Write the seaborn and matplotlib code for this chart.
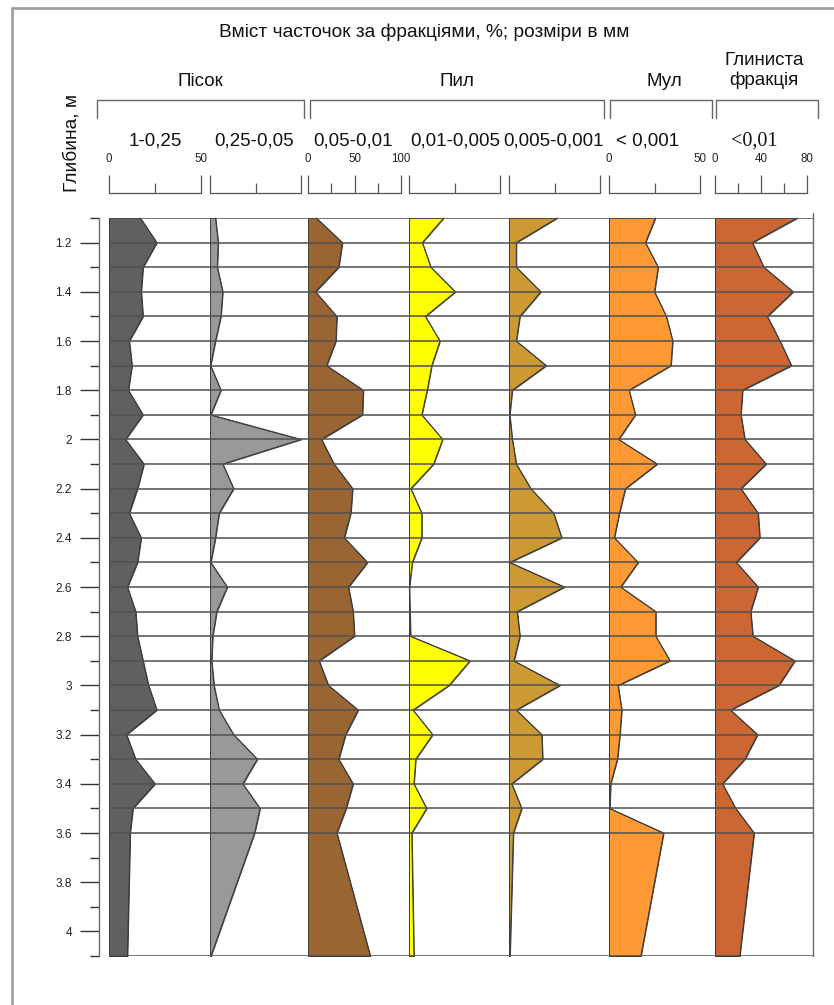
import matplotlib
matplotlib.use('Agg')
import matplotlib.pyplot as plt
import seaborn as sns
from matplotlib.lines import Line2D
from matplotlib.ticker import FixedLocator, FuncFormatter, NullFormatter

sns.set_theme(style='white')
plt.rcParams['font.family'] = ['Liberation Sans', 'DejaVu Sans']

# ---------------- data ----------------
depth = [1.1, 1.2, 1.3, 1.4, 1.5, 1.6, 1.7, 1.8, 1.9, 2.0, 2.1, 2.2, 2.3, 2.4,
         2.5, 2.6, 2.7, 2.8, 2.9, 3.0, 3.1, 3.2, 3.3, 3.4, 3.5, 3.6, 4.1]
layer_bounds = [1.1, 1.2, 1.3, 1.4, 1.5, 1.6, 1.7, 1.8, 1.9, 2.0, 2.1, 2.2, 2.3,
                2.4, 2.5, 2.6, 2.7, 2.8, 2.9, 3.0, 3.1, 3.2, 3.3, 3.4, 3.5, 3.6, 4.1]

sand_coarse = [17, 26, 18.5, 17.5, 18.5, 11, 12.5, 10.5, 18.5, 9, 19, 15.5, 11, 17.5,
               15.5, 10, 14.5, 15.5, 18.5, 21.5, 26, 9.5, 14.5, 25, 13, 11.5, 10]
sand_fine = [3, 4.5, 4, 7, 6, 3, 0.3, 6, 0.4, 50, 7, 13, 5, 3,
             0.4, 9.5, 3.7, 1.5, 0.9, 2.2, 5, 13, 26, 18, 27.5, 24.5, 0.5]
silt_coarse = [9, 37, 33, 8, 31, 30, 20, 59.5, 58.5, 14.5, 28, 48, 46, 39,
               64, 43.5, 48.5, 50, 12, 22, 54, 40.5, 33, 48.5, 41, 31, 67]
silt_medium = [19, 7.3, 12, 25.5, 9, 17, 12.5, 10, 7, 18.5, 13.5, 1, 7, 7,
               1.8, 0.2, 0.5, 0.9, 33.5, 22, 2.2, 13, 3.7, 2.7, 9.7, 1.5, 2.7]
silt_fine = [26.5, 4, 4, 17.5, 6, 4, 20.5, 1.8, 0.4, 1.8, 4, 12, 24.5, 29,
             0.4, 30.5, 4.5, 6, 2.7, 28, 4, 18, 18.5, 1.5, 7, 2.4, 0.5]
clay_lt001 = [25.5, 20, 27, 25, 31.5, 35, 34, 11, 14.5, 5.3, 26.5, 9, 5.7, 2.9,
              16, 6.4, 25.7, 25.7, 33.5, 5, 7, 6, 4.6, 0.9, 0.4, 30, 17.5]
clay_lt01 = [71.5, 32.5, 42.5, 68, 45.5, 56.5, 66.5, 24, 22.5, 26, 44.5, 22.5, 37.5, 39,
             18.5, 37.5, 31, 33, 69.5, 55.5, 13.5, 37, 26, 6.5, 18, 34, 21.5]

fraction_labels = ['1-0,25', '0,25-0,05', '0,05-0,01', '0,01-0,005', '0,005-0,001',
                   '< 0,001', '<0,01']
group_labels = ['Пісок', 'Пил', 'Мул', 'Глиниста\nфракція']
title = 'Вміст часточок за фракціями, %; розміри в мм'
ylabel = 'Глибина, м'

# ---------------- layout ----------------
W, H = 834, 1005
fig = plt.figure(figsize=(W / 100, H / 100), dpi=100)
fig.patch.set_facecolor('white')

FS = 13.5


def axes_px(x0, y0, x1, y1):
    return fig.add_axes([x0 / W, 1 - y1 / H, (x1 - x0) / W, (y1 - y0) / H])


def fline(xs, ys, **kw):
    fig.add_artist(Line2D([x / W for x in xs], [1 - y / H for y in ys],
                          transform=fig.transFigure, **kw))


TOP, BOT = 218, 956
panels = [
    # values, color, x0, x1, xmax, major, labeled, minor, label x, serif
    (sand_coarse, '#606060', 109, 201, 50, [0, 50], True, [25], 155, False),
    (sand_fine, '#999999', 210, 301, 50, [0, 50], False, [25], 254, False),
    (silt_coarse, '#996633', 308, 401, 100, [0, 50, 100], True, [25, 75], 353, False),
    (silt_medium, '#FFFF00', 409, 500, 50, [0, 50], False, [25], 455, False),
    (silt_fine, '#CC9933', 509, 600, 50, [0, 50], False, [25], 553, False),
    (clay_lt001, '#FF9933', 609, 700, 50, [0, 50], True, [25], 648, False),
    (clay_lt01, '#CC6633', 715, 807, 80, [0, 40, 80], True, [20, 60], 754, True),
]

for i, (vals, col, x0, x1, xmax, major, labeled, minor, lx, serif) in enumerate(panels):
    ax = axes_px(x0, TOP, x1, BOT)
    ax.fill_betweenx(depth, 0, vals, facecolor=col, edgecolor='#3a3a3a',
                     linewidth=0.7, clip_on=False)
    sns.lineplot(x=vals, y=depth, orient='y', sort=False, color='#3a3a3a',
                 linewidth=0.7, ax=ax, clip_on=False)
    ax.set_xlim(0, xmax)
    ax.set_ylim(4.1, 1.1)
    ax.axis('off')

    # header scale
    sx = axes_px(x0, 175, x1, 193)
    sx.set_facecolor('none')
    sx.set_xlim(0, xmax)
    sx.set_yticks([])
    for s in ['top', 'left', 'right']:
        sx.spines[s].set_visible(False)
    sx.spines['bottom'].set_color('#555555')
    sx.spines['bottom'].set_linewidth(0.9)
    sx.xaxis.set_major_locator(FixedLocator(major))
    sx.xaxis.set_minor_locator(FixedLocator(minor))
    if labeled:
        sx.xaxis.set_major_formatter(FuncFormatter(lambda v, p: '%g' % v))
    else:
        sx.xaxis.set_major_formatter(NullFormatter())
    sx.tick_params(axis='x', which='both', bottom=True, top=False,
                   labelbottom=False, labeltop=True, direction='in',
                   color='#555555', width=0.9, pad=7.5, labelsize=8.3,
                   labelcolor='#222222')
    sx.tick_params(axis='x', which='major', length=13)
    sx.tick_params(axis='x', which='minor', length=7)

    fam = ['Liberation Serif', 'DejaVu Serif'] if serif else ['Liberation Sans', 'DejaVu Sans']
    fig.text(lx / W, 1 - 141 / H, fraction_labels[i], ha='center', va='center',
             fontsize=14.5 if serif else FS, family=fam, color='#111111')

# overlay axis with depth scale and layer lines
ov = axes_px(99, TOP, 813, BOT)
ov.set_facecolor('none')
ov.set_xlim(0, 1)
ov.set_ylim(4.1, 1.1)
ov.hlines(layer_bounds, (109 - 99) / (813 - 99), 1, color='#505050', linewidth=1.1)
for s in ['top', 'bottom']:
    ov.spines[s].set_visible(False)
for s in ['left', 'right']:
    ov.spines[s].set_color('#6a6a6a')
    ov.spines[s].set_linewidth(1.0)
ov.set_xticks([])
ov.yaxis.set_major_locator(FixedLocator([round(1.2 + 0.2 * k, 1) for k in range(15)]))
ov.yaxis.set_minor_locator(FixedLocator([round(1.1 + 0.2 * k, 1) for k in range(16)]))
ov.yaxis.set_major_formatter(FuncFormatter(lambda v, p: '%g' % round(v, 1)))
ov.tick_params(axis='y', which='both', left=True, direction='out', color='#333333',
               width=1.0, labelsize=8.6, pad=6, labelcolor='#222222')
ov.tick_params(axis='y', which='major', length=13.5)
ov.tick_params(axis='y', which='minor', length=6.5)

# right border line slightly above the column top
fline([813, 813], [213, 218], color='#6a6a6a', linewidth=1.0)

# brackets
bcol = '#666666'
for x0, x1 in [(97, 304), (310, 604), (610, 712), (716, 818)]:
    fline([x0, x0, x1, x1], [118, 100, 100, 118], color=bcol, linewidth=1.0)

# group labels
fig.text(200 / W, 1 - 82 / H, group_labels[0], ha='center', va='center', fontsize=FS, color='#111111')
fig.text(457 / W, 1 - 82 / H, group_labels[1], ha='center', va='center', fontsize=FS, color='#111111')
fig.text(664 / W, 1 - 82 / H, group_labels[2], ha='center', va='center', fontsize=FS, color='#111111')
fig.text(764 / W, 1 - 70.5 / H, group_labels[3], ha='center', va='center', fontsize=FS,
         color='#111111', linespacing=1.2)

fig.text(424 / W, 1 - 32 / H, title, ha='center', va='center', fontsize=13.8, color='#111111')
fig.text(72 / W, 1 - 143 / H, ylabel, ha='center', va='center', rotation=90,
         fontsize=13.8, color='#111111')

# outer frame
fline([12, 12], [1005, 8], color='#a0a0a0', linewidth=2.0)
fline([12, 834], [8, 8], color='#a0a0a0', linewidth=2.0)

fig.savefig('out.png', dpi=100, facecolor='white')
